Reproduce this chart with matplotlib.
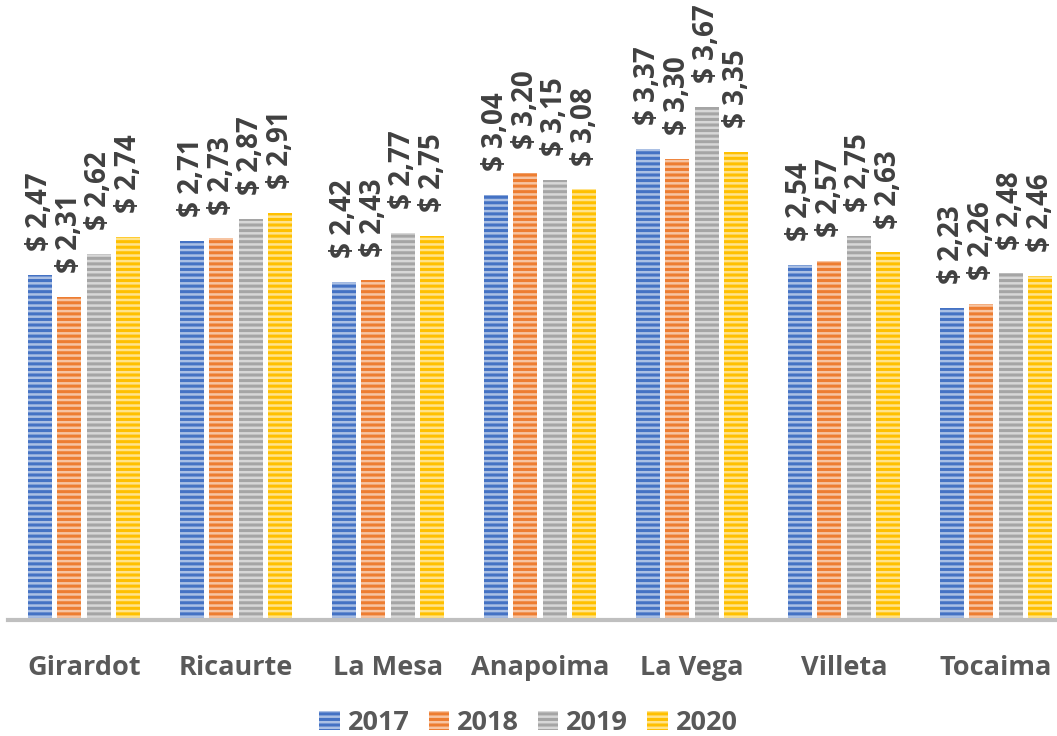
import numpy as np
import matplotlib.pyplot as plt
from matplotlib.colors import to_rgb

# Municipalities and yearly values
municipios = ["Girardot", "Ricaurte", "La Mesa", "Anapoima", "La Vega", "Villeta", "Tocaima"]
anios = ["2017", "2018", "2019", "2020"]
v2017 = [2.47, 2.71, 2.42, 3.04, 3.37, 2.54, 2.23]
v2018 = [2.31, 2.73, 2.43, 3.20, 3.30, 2.57, 2.26]
v2019 = [2.62, 2.87, 2.77, 3.15, 3.67, 2.75, 2.48]
v2020 = [2.74, 2.91, 2.75, 3.08, 3.35, 2.63, 2.46]
series = [v2017, v2018, v2019, v2020]
colores = ["#4472C4", "#ED7D31", "#A5A5A5", "#FFC000"]

plt.rcParams['font.family'] = ['Open Sans', 'DejaVu Sans']
plt.rcParams['hatch.linewidth'] = 2.2

def tint(c, f=0.55):
    r, g, b = to_rgb(c)
    return (r + (1 - r) * f, g + (1 - g) * f, b + (1 - b) * f)

fig = plt.figure(figsize=(10.57, 7.36), dpi=100)
ax = fig.add_axes([8 / 1057, 116 / 736, 1064 / 1057, 620 / 736])

x = np.arange(len(municipios))
paso = 0.194
ancho = 0.16
handles = []
for i, (vals, col) in enumerate(zip(series, colores)):
    pos = x + (i - 1.5) * paso
    b = ax.bar(pos, vals, ancho, color=tint(col), edgecolor=col, hatch='---',
               linewidth=0, label=anios[i])
    handles.append(b)
    for xp, v in zip(pos, vals):
        ax.text(xp, v + 0.17, "$ " + f"{v:.2f}".replace(".", ","), rotation=90,
                ha='center', va='bottom', fontsize=20, fontweight='bold',
                color='#404040', clip_on=False)

ax.set_xlim(-0.5, len(municipios) - 0.5)
ax.set_ylim(0, 4.435)
for s in ['top', 'right', 'left']:
    ax.spines[s].set_visible(False)
ax.spines['bottom'].set_color('#BFBFBF')
ax.spines['bottom'].set_linewidth(3)
ax.set_yticks([])
ax.set_xticks(x)
ax.set_xticklabels(municipios, fontsize=19.5, fontweight='bold', color='#595959')
ax.tick_params(axis='x', length=0, pad=25)

fig.legend(handles=handles, labels=anios, loc='center', bbox_to_anchor=(0.5, 13 / 736),
           ncol=4, frameon=False, prop={'weight': 'bold', 'size': 19.5},
           handlelength=0.75, handleheight=0.75, handletextpad=0.3, columnspacing=0.7,
           labelcolor='#595959')

fig.savefig("out.png", dpi=100)
